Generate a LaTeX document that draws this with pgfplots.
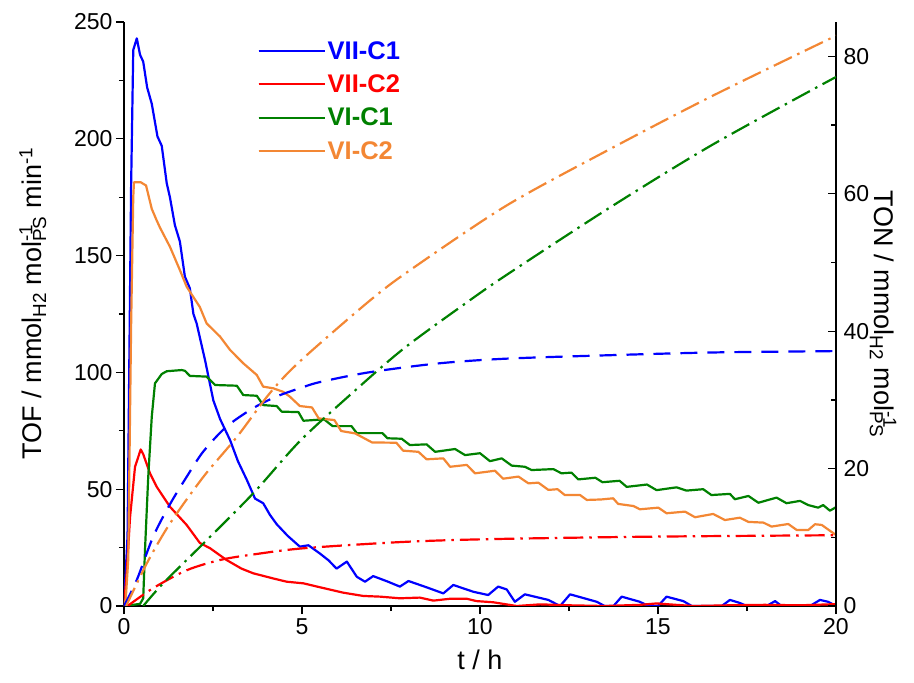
\documentclass[border=0pt]{standalone}
\usepackage{fontspec}
\setmainfont{Liberation Sans}
\usepackage{pgfplots}
\pgfplotsset{compat=1.18}
\definecolor{cblue}{RGB}{0,0,255}
\definecolor{cred}{RGB}{255,0,0}
\definecolor{cgreen}{RGB}{0,128,0}
\definecolor{corange}{RGB}{243,135,52}
\begin{document}
\begin{tikzpicture}
\useasboundingbox (-124pt,-77pt) rectangle (790pt,606pt);
\pgfplotsset{
  every axis/.append style={
    scale only axis, width=712pt, height=584pt, at={(0pt,0pt)}, anchor=south west,
    xmin=0, xmax=20,
    /pgf/number format/assume math mode=true,
    tick label style={font=\fontsize{23}{27}\selectfont},
    label style={font=\fontsize{27}{31}\selectfont},
    tick style={black, line width=1.3pt},
    major tick length=8pt, minor tick length=5pt,
    axis line style={black, line width=1.5pt, -},
    line join=round,
  },
  sol/.style={line width=2.2pt},
  dsh/.style={line width=2.2pt, dash pattern=on 17pt off 10pt},
  dd/.style={line width=2.2pt, dash pattern=on 20pt off 6pt on 2.5pt off 6pt},
}
\begin{axis}[
  axis x line*=bottom, axis y line*=left,
  ymin=0, ymax=250,
  xtick={0,5,10,15,20}, minor xtick={2.5,7.5,12.5,17.5},
  ytick={0,50,100,150,200,250}, minor ytick={25,75,125,175,225},
  tick align=outside,
  xticklabel style={yshift=-1pt},
  xlabel={t / h},
  xlabel style={at={(axis description cs:0.5,-0.0925)}, anchor=center},
  ylabel={TOF / mmol\textsubscript{H2} mol\rlap{\textsuperscript{-1}}\textsubscript{PS} min\textsuperscript{-1}},
  ylabel style={at={(axis description cs:-0.128,0.518)}, anchor=center},
  legend style={at={(0.183,0.974)}, anchor=north west, draw=none, fill=none,
    font=\fontsize{25.5}{30}\selectfont\bfseries, row sep=10pt},
  legend cell align=left,
  legend image code/.code={\draw[#1, line width=2.2pt, solid] (0pt,0pt) -- (60pt,0pt); \path (0pt,0pt) -- (66pt,0pt);},
]
\addplot[sol, cblue] coordinates {
(0,0) (0.1,30) (0.2,180) (0.26,238) (0.36,243) (0.45,236) (0.54,233) (0.65,222) (0.78,215) (0.94,201) (1.06,197) (1.2,181) (1.29,175) (1.43,163) (1.57,156) (1.71,141) (1.85,136) (1.95,125) (2.04,121) (2.28,105) (2.51,88) (2.70,80) (2.98,71) (3.2,62) (3.45,54) (3.68,46) (3.91,44) (4.1,39) (4.29,35) (4.6,30) (4.94,25.4) (5.18,26) (5.5,22.5) (5.75,19.5) (5.97,16) (6.26,19) (6.54,12.5) (6.77,10.4) (7.0,12.8) (7.4,10.5) (7.75,8.3) (7.99,10.7) (8.5,8) (8.97,5.4) (9.25,9) (9.81,6.1) (10.23,4.7) (10.51,8.3) (10.75,7.1) (10.98,1.8) (11.26,5) (11.92,2.6) (12.25,0) (12.53,5) (13.28,1.8) (13.5,0) (13.75,0) (13.98,4) (14.49,1.8) (14.73,0) (15.0,0) (15.24,4) (15.71,2.1) (15.95,0) (16.79,0) (17.02,2.6) (17.3,1.3) (17.49,0) (18.05,0) (18.29,2.1) (18.47,0) (19.27,0) (19.55,2.6) (19.78,1.8) (20,0)
};
\addlegendentry{\textcolor{cblue}{VII-C1}}
\addplot[sol, cred] coordinates {
(0,0) (0.08,15) (0.17,38) (0.31,59.6) (0.47,67) (0.54,65) (0.73,56.8) (0.92,51) (1.29,42.5) (1.76,34.7) (2.13,27) (2.42,24.7) (2.88,19.7) (3.3,16) (3.63,14) (4.19,11.8) (4.57,10.4) (5.04,9.7) (5.51,8.0) (6.16,5.7) (6.72,4.3) (7.2,4) (7.75,3.3) (8.31,3.6) (8.69,2.3) (9.16,3.1) (9.63,3.1) (9.9,2.1) (10.37,1.6) (11.03,0) (11.69,0.7) (12.5,0.3) (13.5,0) (14.5,0.5) (14.96,1.1) (15.5,0.5) (16,0) (17,0.3) (18,0.5) (19,0.3) (20,0.8)
};
\addlegendentry{\textcolor{cred}{VII-C2}}
\addplot[sol, cgreen] coordinates {
(0,0) (0.45,0.9) (0.54,3.3) (0.59,24) (0.68,55) (0.78,81) (0.87,95.3) (1.06,99.3) (1.2,100.5) (1.62,101) (1.71,100.7) (1.85,98.5) (2.32,98.2) (2.56,94.6) (3.17,94.3) (3.35,90.3) (3.73,90) (3.91,86) (4.29,85.6) (4.43,83.2) (4.9,83) (5.04,79.3) (5.62,79.9) (5.86,77) (6.39,77) (6.54,74) (7.26,74) (7.40,71.8) (7.8,71.6) (8.03,68.9) (8.5,69.2) (8.74,66) (9.3,67.2) (9.58,64.6) (10,65.4) (10.28,62) (10.61,63.2) (10.89,60.1) (11.26,59.6) (11.45,58.2) (12.06,58.6) (12.29,56.8) (12.57,57.1) (12.76,54.2) (13.24,54.9) (13.44,53) (13.92,53.6) (14.12,51) (14.69,52) (14.96,49.6) (15.52,50.8) (15.8,49.4) (16.27,50) (16.5,47.5) (17.02,48) (17.16,45.7) (17.54,47.1) (17.82,44.2) (18.33,46.4) (18.61,44) (18.99,45) (19.22,43.2) (19.5,42.1) (19.64,43.2) (19.83,40.8) (20,42.3)
};
\addlegendentry{\textcolor{cgreen}{VI-C1}}
\addplot[sol, corange] coordinates {
(0,0) (0.05,3) (0.12,20) (0.2,120) (0.26,175) (0.28,181.4) (0.47,181.4) (0.62,180) (0.78,170) (0.92,165) (1.01,162) (1.29,153.8) (1.57,143.8) (1.76,136.7) (2.13,128) (2.32,121) (2.7,115.3) (2.98,109.6) (3.35,103.9) (3.73,98.9) (3.91,93.9) (4.19,93.2) (4.47,91.7) (4.66,89.6) (4.94,85.6) (5.28,85) (5.47,80.3) (5.91,79.6) (6.10,74.9) (6.49,73.9) (6.97,70) (7.65,69.9) (7.84,66.5) (8.27,66) (8.5,62.8) (8.97,63.2) (9.16,59.6) (9.63,60.4) (9.86,56.8) (10.42,57.9) (10.65,54.5) (11.08,55.4) (11.36,52.5) (11.64,52.8) (11.92,49.7) (12.18,50) (12.38,47.5) (12.81,47.5) (13.0,45.4) (13.4,45.6) (13.74,46.1) (13.88,43.7) (14.31,42.8) (14.49,41.4) (15.01,42.1) (15.24,39.7) (15.76,40.4) (16.04,38) (16.55,39.4) (16.88,36.8) (17.3,37.8) (17.54,36) (17.96,35.7) (18.19,34) (18.66,35.1) (18.9,32.5) (19.22,32.5) (19.41,35) (19.6,34.7) (19.83,32.2) (20,30.4)
};
\addlegendentry{\textcolor{corange}{VI-C2}}
\end{axis}
\begin{axis}[
  axis x line=none, axis y line*=right,
  ymin=0, ymax=85,
  ytick={0,20,40,60,80}, minor ytick={10,30,50,70},
  tick align=inside,
  yticklabel style={xshift=4pt},
  ylabel={TON / mmol\textsubscript{H2} mol\rlap{\textsuperscript{-1}}\textsubscript{PS}},
  ylabel style={at={(axis description cs:1.066,0.5)}, anchor=center, rotate=180},
]
\addplot[dsh, cblue, smooth] coordinates {
(0,0) (0.36,3.8) (0.82,10.1) (1.29,14.8) (1.76,18.8) (2.23,22.5) (2.88,26.1) (3.63,28.8) (4.29,30.5) (4.94,31.7) (5.51,32.6) (6.87,34) (8.81,35.3) (10.74,36) (13.63,36.5) (16.53,36.9) (20,37.1)
};
\addplot[dd, cred, smooth] coordinates {
(0.1,0) (0.82,2.6) (1.76,5.2) (2.7,6.7) (3.63,7.5) (5.04,8.4) (7.75,9.3) (10,9.7) (13.4,10) (16,10.15) (20,10.3)
};
\addplot[dd, cgreen, smooth] coordinates {
(0.54,0) (1.1,3.3) (2.23,9.1) (3.63,16.4) (4.94,24) (6.39,30.9) (7.84,37.4) (9.58,44) (10.75,48.2) (13.65,58) (16.55,67.2) (20,77)
};
\addplot[dd, corange, smooth] coordinates {
(0.06,0) (0.64,6.2) (1.29,12) (2.23,18.8) (3.17,24.6) (4.1,31) (4.94,35.6) (6.87,44.3) (8.04,48.9) (10.75,58.3) (13.65,66.5) (16.55,74.3) (20,83)
};
\end{axis}
\end{tikzpicture}
\end{document}
